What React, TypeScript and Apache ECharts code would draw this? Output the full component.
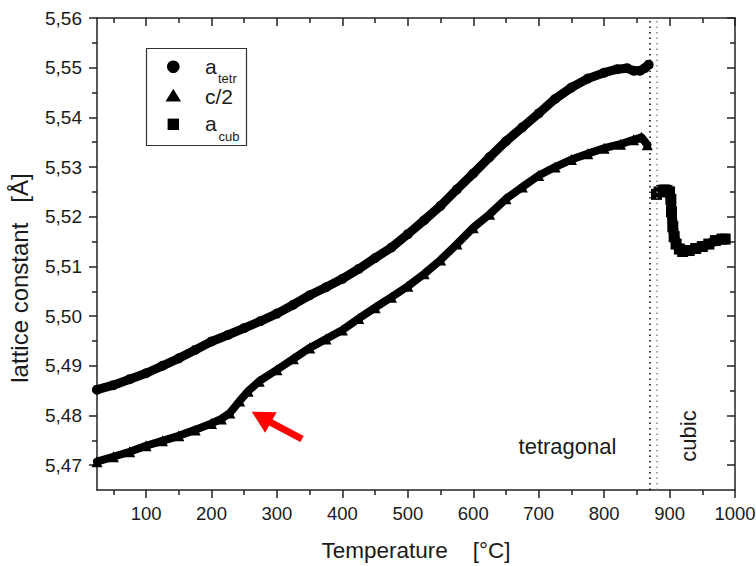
import React, { useEffect, useRef } from 'react';
import * as echarts from 'echarts';

// ---- data ----
const tetrT = [25, 50, 75, 100, 125, 150, 175, 200, 225, 250, 275, 300, 325, 350, 375, 400, 425, 450, 475, 500, 525, 550, 575, 600, 625, 650, 675, 700, 725, 750, 775, 800, 820, 835, 845, 855, 862, 868];
const tetrA = [5.4852, 5.4861, 5.4873, 5.4885, 5.49, 5.4915, 5.4932, 5.4949, 5.4962, 5.4976, 5.499, 5.5005, 5.5023, 5.5042, 5.5058, 5.5075, 5.5095, 5.5117, 5.5138, 5.5165, 5.5193, 5.5222, 5.5255, 5.5287, 5.532, 5.5352, 5.538, 5.5408, 5.5437, 5.546, 5.5478, 5.549, 5.5497, 5.5499, 5.5494, 5.5494, 5.5499, 5.5506];

const c2T = [25, 50, 75, 100, 125, 150, 175, 200, 215, 228, 243, 256, 273, 300, 325, 350, 375, 400, 425, 450, 475, 500, 525, 550, 575, 600, 625, 650, 675, 700, 725, 750, 775, 800, 825, 845, 857, 866];
const c2V = [5.4707, 5.4717, 5.4727, 5.4739, 5.4749, 5.4759, 5.4771, 5.4784, 5.4793, 5.4805, 5.4829, 5.4849, 5.4869, 5.4892, 5.4914, 5.4936, 5.4954, 5.4972, 5.4995, 5.5017, 5.5038, 5.506, 5.5085, 5.5113, 5.5145, 5.5178, 5.5205, 5.5236, 5.526, 5.5283, 5.53, 5.5315, 5.5327, 5.5338, 5.5346, 5.5355, 5.536, 5.5345];

const cubT = [880, 884, 888, 892, 896, 900, 902, 903, 905, 907, 910, 915, 920, 930, 940, 950, 960, 970, 980, 985];
const cubA = [5.5245, 5.525, 5.5253, 5.5254, 5.5253, 5.525, 5.5235, 5.521, 5.518, 5.516, 5.5145, 5.5135, 5.513, 5.5132, 5.5136, 5.514, 5.5145, 5.5152, 5.5155, 5.5155];

const transitionT = [869, 880];

const xMajorTicks = [100, 200, 300, 400, 500, 600, 700, 800, 900, 1000];
const xMinorTicks = [50, 150, 250, 350, 450, 550, 650, 750, 850, 950];
const yMajorTicks = [5.47, 5.48, 5.49, 5.5, 5.51, 5.52, 5.53, 5.54, 5.55, 5.56];
const yMinorTicks = [5.475, 5.485, 5.495, 5.505, 5.515, 5.525, 5.535, 5.545, 5.555];

const X_MIN = 25;
const X_MAX = 1000;
const Y_MIN = 5.465;
const Y_MAX = 5.56;

const FONT = '"Liberation Sans", Arial, Helvetica, sans-serif';
const AX = '#222';
const TXT = '#1a1a1a';
const NB = '\u00a0';

function pair(xs: number[], ys: number[]) {
  return xs.map((x, i) => [x, ys[i]]);
}

function xAxisDef(position: 'bottom' | 'top', values: number[], len: number, main: boolean) {
  const inside = position === 'top';
  return {
    type: 'value',
    position,
    min: X_MIN,
    max: X_MAX,
    splitLine: { show: false },
    minorTick: { show: false },
    axisLine: { show: main, onZero: false, lineStyle: { color: AX, width: 1.5 } },
    axisTick: { show: true, inside, length: len, customValues: values, lineStyle: { color: AX, width: 1.5 } },
    axisLabel: main && position === 'bottom'
      ? {
          show: true,
          customValues: values,
          fontSize: 18.5,
          fontFamily: FONT,
          color: TXT,
          margin: 14,
          formatter: (v: number) => String(Math.round(v)),
        }
      : { show: false },
    ...(main && position === 'bottom'
      ? {
          name: 'Temperature' + NB.repeat(4) + '[°C]',
          nameLocation: 'middle',
          nameGap: 49,
          nameTextStyle: { fontSize: 22.5, fontFamily: FONT, color: TXT },
        }
      : {}),
  };
}

function yAxisDef(position: 'left' | 'right', values: number[], len: number, main: boolean) {
  const inside = position === 'right';
  return {
    type: 'value',
    position,
    min: Y_MIN,
    max: Y_MAX,
    splitLine: { show: false },
    minorTick: { show: false },
    axisLine: { show: main, onZero: false, lineStyle: { color: AX, width: 1.5 } },
    axisTick: { show: true, inside, length: len, customValues: values, lineStyle: { color: AX, width: 1.5 } },
    axisLabel: main && position === 'left'
      ? {
          show: true,
          customValues: values,
          fontSize: 19,
          fontFamily: FONT,
          color: TXT,
          margin: 15,
          formatter: (v: number) => v.toFixed(2).replace('.', ','),
        }
      : { show: false },
    ...(main && position === 'left'
      ? {
          name: 'lattice constant' + NB.repeat(3) + '[Å]',
          nameLocation: 'middle',
          nameGap: 66,
          nameTextStyle: { fontSize: 24, fontFamily: FONT, color: TXT, padding: [0, 48, 0, 0] },
        }
      : {}),
  };
}

export default function App() {
  const ref = useRef<HTMLDivElement>(null);

  useEffect(() => {
    if (!ref.current) return;
    const chart = echarts.init(ref.current, undefined, { renderer: 'svg' });

    const lineCommon = {
      type: 'line',
      xAxisIndex: 0,
      yAxisIndex: 0,
      showAllSymbol: true,
      silent: true,
      z: 3,
      itemStyle: { color: '#000' },
    };

    const arrow = {
      type: 'polygon',
      shape: {
        points: [
          [251.7, 411.7],
          [276.7, 412.2],
          [272.6, 419.4],
          [303.7, 435.9],
          [300.3, 442.1],
          [269.2, 425.6],
          [265.1, 432.8],
        ],
      },
      style: { fill: '#ff0000' },
      z: 20,
    };

    const legend = [
      { type: 'rect', shape: { x: 146.5, y: 48.5, width: 100, height: 97 }, style: { fill: '#fff', stroke: '#333', lineWidth: 1.2 }, z: 10 },
      { type: 'circle', shape: { cx: 173.3, cy: 66.7, r: 6.3 }, style: { fill: '#000' }, z: 11 },
      { type: 'polygon', shape: { points: [[173.3, 88.8], [181.1, 101.4], [165.5, 101.4]] }, style: { fill: '#000' }, z: 11 },
      { type: 'rect', shape: { x: 167.6, y: 118.6, width: 11.4, height: 11.4 }, style: { fill: '#000' }, z: 11 },
      { type: 'text', x: 205, y: 66, style: { text: 'a', fontSize: 21, fontFamily: FONT, fill: TXT, align: 'left', verticalAlign: 'middle' }, z: 11 },
      { type: 'text', x: 218, y: 78.5, style: { text: 'tetr', fontSize: 13, fontFamily: FONT, fill: TXT, align: 'left', verticalAlign: 'middle' }, z: 11 },
      { type: 'text', x: 205, y: 96, style: { text: 'c/2', fontSize: 21, fontFamily: FONT, fill: TXT, align: 'left', verticalAlign: 'middle' }, z: 11 },
      { type: 'text', x: 205, y: 123, style: { text: 'a', fontSize: 21, fontFamily: FONT, fill: TXT, align: 'left', verticalAlign: 'middle' }, z: 11 },
      { type: 'text', x: 218.5, y: 136.5, style: { text: 'cub', fontSize: 13, fontFamily: FONT, fill: TXT, align: 'left', verticalAlign: 'middle' }, z: 11 },
    ];

    const notes = [
      { type: 'text', x: 567.5, y: 446, style: { text: 'tetragonal', fontSize: 22, fontFamily: FONT, fill: TXT, align: 'center', verticalAlign: 'middle' }, z: 11 },
      { type: 'text', x: 688, y: 436, rotation: Math.PI / 2, style: { text: 'cubic', fontSize: 22, fontFamily: FONT, fill: TXT, align: 'center', verticalAlign: 'middle' }, z: 11 },
    ];

    chart.setOption({
      animation: false,
      backgroundColor: '#fff',
      grid: { left: 97, right: 21, top: 18, bottom: 76, containLabel: false, outerBoundsMode: 'none' },
      xAxis: [
        xAxisDef('bottom', xMajorTicks, 8, true),
        xAxisDef('bottom', xMinorTicks, 5, false),
        xAxisDef('top', xMajorTicks, 8, true),
        xAxisDef('top', xMinorTicks, 5, false),
      ],
      yAxis: [
        yAxisDef('left', yMajorTicks, 8, true),
        yAxisDef('left', yMinorTicks, 5, false),
        yAxisDef('right', yMajorTicks, 8, true),
        yAxisDef('right', yMinorTicks, 5, false),
      ],
      series: [
        {
          ...lineCommon,
          name: 'a_tetr',
          data: pair(tetrT, tetrA),
          symbol: 'circle',
          symbolSize: 10,
          lineStyle: { color: '#000', width: 9, cap: 'round', join: 'round' },
          markLine: {
            silent: true,
            symbol: ['none', 'none'],
            label: { show: false },
            data: [
              { xAxis: transitionT[0], lineStyle: { color: '#000', type: [1.5, 4], width: 1.5 } },
              { xAxis: transitionT[1], lineStyle: { color: '#888', type: [1.5, 4], width: 1.5 } },
            ],
          },
        },
        {
          ...lineCommon,
          name: 'c/2',
          data: pair(c2T, c2V),
          symbol: 'triangle',
          symbolSize: 11,
          lineStyle: { color: '#000', width: 8, cap: 'round', join: 'round' },
        },
        {
          ...lineCommon,
          name: 'a_cub',
          data: pair(cubT, cubA),
          symbol: 'rect',
          symbolSize: 11,
          lineStyle: { color: '#000', width: 10, cap: 'round', join: 'round' },
        },
      ],
      graphic: [...legend, ...notes, arrow],
    });

    return () => chart.dispose();
  }, []);

  return (
    <div
      ref={ref}
      style={{ position: 'fixed', left: 0, top: 0, width: 756, height: 566, background: '#fff' }}
    />
  );
}
